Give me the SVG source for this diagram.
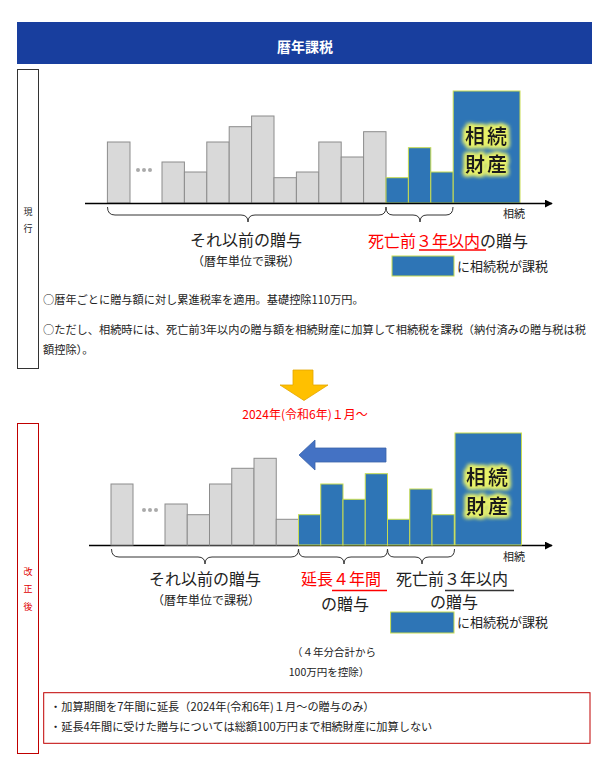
<svg xmlns="http://www.w3.org/2000/svg" width="609" height="760" viewBox="0 0 609 760">
<style>
text{font-family:"Noto Sans CJK JP","Noto Sans",sans-serif;fill:#222}
.g{fill:#D9D9D9;stroke:#8C8C8C;stroke-width:1}
.b{fill:#2E75B6;stroke:#C8DC50;stroke-width:1}
.axis{stroke:#000;stroke-width:1.5;fill:none}
.brace{stroke:#333;stroke-width:1;fill:none}
.big{font-size:16px}
.red{fill:#FF0000}
.small{font-size:11px}
.para{font-size:11.2px}
.glow{font-size:20px;font-weight:bold;fill:#1a1a1a;letter-spacing:2px}
.dot{fill:#AAAAAA}
</style>
<defs>
<marker id="ah" viewBox="0 0 10 10" refX="9" refY="5" markerWidth="8" markerHeight="8" markerUnits="userSpaceOnUse" orient="auto"><path d="M0,0 L10,5 L0,10 z" fill="#000"/></marker>
<filter id="gl" x="-30%" y="-40%" width="160%" height="180%">
<feMorphology in="SourceAlpha" operator="dilate" radius="1.5" result="d"/>
<feGaussianBlur in="d" stdDeviation="2" result="bl"/>
<feFlood flood-color="#EAF36A"/>
<feComposite in2="bl" operator="in" result="gg"/>
<feMerge><feMergeNode in="gg"/><feMergeNode in="gg"/><feMergeNode in="SourceGraphic"/></feMerge>
</filter>
</defs>

<g id="header">
<rect x="17" y="22" width="575" height="42" fill="#183E9E"/>
<text x="305" y="52" text-anchor="middle" style="font-size:14px;font-weight:bold;fill:#fff">暦年課税</text>
</g>

<g id="current-label">
<rect x="17.5" y="69.5" width="21" height="299" fill="none" stroke="#333" stroke-width="1"/>
<text x="28" y="215" text-anchor="middle" style="font-size:9px">現</text>
<text x="28" y="232" text-anchor="middle" style="font-size:9px">行</text>
</g>

<g id="chart1-bars">
<rect class="g" x="107.4" y="142" width="22.6" height="61"/>
<circle class="dot" cx="138" cy="170" r="2"/><circle class="dot" cx="144" cy="170" r="2"/><circle class="dot" cx="150" cy="170" r="2"/>
<rect class="g" x="162" y="162" width="22.4" height="41"/>
<rect class="g" x="184.4" y="172" width="22.4" height="31"/>
<rect class="g" x="206.8" y="142" width="22.4" height="61"/>
<rect class="g" x="229.2" y="126.7" width="22.4" height="76.3"/>
<rect class="g" x="251.6" y="116" width="22.4" height="87"/>
<rect class="g" x="274" y="177.7" width="22.4" height="25.3"/>
<rect class="g" x="296.4" y="172" width="22.4" height="31"/>
<rect class="g" x="318.8" y="142" width="22.4" height="61"/>
<rect class="g" x="341.2" y="157" width="22.4" height="46"/>
<rect class="g" x="363.6" y="131.7" width="22.4" height="71.3"/>
<rect class="b" x="386" y="177.7" width="22.4" height="25.3"/>
<rect class="b" x="408.4" y="147.7" width="22.4" height="55.3"/>
<rect class="b" x="430.8" y="172" width="22.4" height="31"/>
</g>
<g id="chart1-estate">
<rect class="b" x="453.2" y="91" width="66.8" height="112"/>
<text class="glow" x="487" y="144" text-anchor="middle" filter="url(#gl)">相続</text>
<text class="glow" x="487" y="172" text-anchor="middle" filter="url(#gl)">財産</text>
</g>

<g id="connectors">
<line class="axis" x1="85" y1="203.5" x2="552" y2="203.5" marker-end="url(#ah)"/>
<line class="axis" x1="89" y1="545.5" x2="552" y2="545.5" marker-end="url(#ah)"/>
<path class="brace" d="M107.5,207 Q107.5,215 115,215 L241,215 Q248,215 248,222 Q248,215 255,215 L379,215 Q386,215 386,207"/>
<path class="brace" d="M386,207 Q386,215 393,215 L413,215 Q420,215 420,222 Q420,215 427,215 L446,215 Q453,215 453,207"/>
<path class="brace" d="M111.5,549 Q111.5,557 119,557 L198,557 Q205,557 205,564 Q205,557 212,557 L291,557 Q298.5,557 298.5,549"/>
<path class="brace" d="M298.5,549 Q298.5,557 305,557 L337,557 Q344,557 344,564 Q344,557 351,557 L381,557 Q387.5,557 387.5,549"/>
<path class="brace" d="M387.5,549 Q387.5,557 394,557 L415,557 Q422,557 422,564 Q422,557 429,557 L448,557 Q454.5,557 454.5,549"/>
</g>

<g id="chart1-labels">
<text x="514" y="218" text-anchor="middle" class="small">相続</text>
<text x="246" y="246" text-anchor="middle" class="big">それ以前の贈与</text>
<text x="246" y="266" text-anchor="middle" style="font-size:12px">（暦年単位で課税）</text>
<text x="368" y="247" class="big"><tspan class="red">死亡前３年以内</tspan>の贈与</text>
<line x1="419" y1="250" x2="486" y2="250" stroke="#FF0000" stroke-width="1.5"/>
<rect class="b" x="392" y="256" width="62" height="20"/>
<text x="457" y="271" style="font-size:13px">に相続税が課税</text>
</g>

<g id="current-notes">
<text x="43" y="304" class="para">○暦年ごとに贈与額に対し累進税率を適用。基礎控除110万円。</text>
<text x="43" y="334" class="para">○ただし、相続時には、死亡前3年以内の贈与額を相続財産に加算して相続税を課税（納付済みの贈与税は税</text>
<text x="43" y="354" class="para">額控除）。</text>
</g>

<g id="down-arrow">
<path d="M293,370 L313,370 L313,385 L328,385 L304,400.5 L280,385 L293,385 Z" fill="#FFC000" stroke="#E3A600" stroke-width="0.8"/>
</g>
<g id="date-label">
<text x="305" y="419" text-anchor="middle" style="font-size:12px;fill:#FF0000">2024年(令和6年)１月～</text>
</g>

<g id="revised-label">
<rect x="17.5" y="423.5" width="21" height="330" fill="none" stroke="#C00000" stroke-width="1"/>
<text x="28" y="575" text-anchor="middle" style="font-size:9px;fill:#E00000">改</text>
<text x="28" y="592" text-anchor="middle" style="font-size:9px;fill:#E00000">正</text>
<text x="28" y="610" text-anchor="middle" style="font-size:9px;fill:#E00000">後</text>
</g>

<g id="shift-arrow">
<path d="M299,455 L315,440 L315,448 L386,448 L386,462 L315,462 L315,470 Z" fill="#4472C4" stroke="#3A62A8" stroke-width="0.8"/>
</g>

<g id="chart2-bars">
<rect class="g" x="111" y="484" width="22" height="61"/>
<circle class="dot" cx="144" cy="510" r="2"/><circle class="dot" cx="150" cy="510" r="2"/><circle class="dot" cx="156" cy="510" r="2"/>
<rect class="g" x="165" y="504" width="22.25" height="41"/>
<rect class="g" x="187.25" y="514.7" width="22.25" height="30.3"/>
<rect class="g" x="209.5" y="484" width="22.25" height="61"/>
<rect class="g" x="231.75" y="468.3" width="22.25" height="76.7"/>
<rect class="g" x="254" y="458.3" width="22.25" height="86.7"/>
<rect class="g" x="276.25" y="519.3" width="22.25" height="25.7"/>
<rect class="b" x="298.5" y="514.7" width="22.25" height="30.3"/>
<rect class="b" x="320.75" y="484" width="22.25" height="61"/>
<rect class="b" x="343" y="499.3" width="22.25" height="45.7"/>
<rect class="b" x="365.25" y="473.7" width="22.25" height="71.3"/>
<rect class="b" x="387.5" y="519.3" width="22.25" height="25.7"/>
<rect class="b" x="409.75" y="489" width="22.25" height="56"/>
<rect class="b" x="432" y="514.7" width="22.25" height="30.3"/>
</g>
<g id="chart2-estate">
<rect class="b" x="455" y="433" width="66.5" height="112"/>
<text class="glow" x="488" y="485" text-anchor="middle" filter="url(#gl)">相続</text>
<text class="glow" x="488" y="514" text-anchor="middle" filter="url(#gl)">財産</text>
</g>

<g id="chart2-labels">
<text x="514" y="561" text-anchor="middle" class="small">相続</text>
<text x="205" y="585" text-anchor="middle" class="big">それ以前の贈与</text>
<text x="206" y="605" text-anchor="middle" style="font-size:12px">（暦年単位で課税）</text>
<text x="341" y="585" text-anchor="middle" class="big red">延長４年間</text>
<line x1="332" y1="590.5" x2="387" y2="590.5" stroke="#FF0000" stroke-width="1.5"/>
<text x="345" y="610" text-anchor="middle" class="big">の贈与</text>
<text x="452" y="585" text-anchor="middle" class="big">死亡前３年以内</text>
<line x1="445" y1="590.5" x2="514" y2="590.5" stroke="#333" stroke-width="1.5"/>
<text x="454" y="608" text-anchor="middle" class="big">の贈与</text>
<rect class="b" x="390.6" y="612" width="63.4" height="21"/>
<text x="457" y="627" style="font-size:13px">に相続税が課税</text>
<text x="334" y="656" text-anchor="middle" style="font-size:10.5px">（４年分合計から</text>
<text x="329" y="676" text-anchor="middle" style="font-size:10.5px">100万円を控除）</text>
</g>

<g id="revised-notes">
<rect x="43.7" y="692.7" width="546.3" height="50.6" fill="none" stroke="#C00000" stroke-width="1"/>
<text x="50" y="711" class="para">・加算期間を7年間に延長（2024年(令和6年)１月～の贈与のみ）</text>
<text x="50" y="731" class="para">・延長4年間に受けた贈与については総額100万円まで相続財産に加算しない</text>
</g>
</svg>
